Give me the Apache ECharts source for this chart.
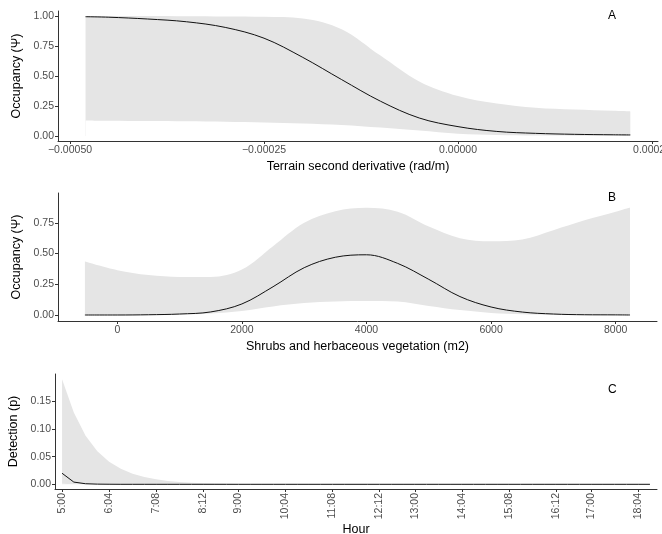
<!DOCTYPE html>
<html><head><meta charset="utf-8">
<script src="https://cdn.jsdelivr.net/npm/echarts@6/dist/echarts.min.js"></script>
<style>html,body{margin:0;padding:0;background:#fff}#c{width:662px;height:534px}</style>
</head><body><div id="c"></div>
<script>
// Panel A: terrain second derivative
const terrainX     = [-0.00048, -0.00045, -0.0004, -0.00035, -0.0003, -0.00025, -0.0002, -0.00015, -0.0001, -0.00005, 0, 0.00005, 0.0001, 0.00015, 0.0002, 0.000222];
const terrainMean  = [0.994, 0.99, 0.975, 0.952, 0.905, 0.815, 0.655, 0.47, 0.29, 0.15, 0.078, 0.038, 0.022, 0.014, 0.010, 0.009];
const terrainUpper = [1.0, 1.0, 1.0, 0.998, 0.996, 0.993, 0.98, 0.89, 0.67, 0.455, 0.333, 0.27, 0.235, 0.22, 0.21, 0.205];
const terrainLower = [0.13, 0.127, 0.124, 0.122, 0.119, 0.113, 0.105, 0.092, 0.07, 0.045, 0.018, 0.008, 0.004, 0.003, 0.002, 0.002];
const terrainTicks = [-0.0005, -0.00025, 0, 0.00025];

// Panel B: shrubs and herbaceous vegetation
const shrubX     = [-520, 0, 500, 1000, 1500, 2000, 2500, 3000, 3500, 4000, 4500, 5000, 5500, 6000, 6500, 7000, 7500, 8000, 8230];
const shrubMean  = [0.0, 0.0, 0.002, 0.008, 0.025, 0.09, 0.23, 0.385, 0.47, 0.49, 0.42, 0.29, 0.15, 0.065, 0.024, 0.008, 0.002, 0.001, 0.0];
const shrubUpper = [0.435, 0.365, 0.325, 0.31, 0.31, 0.37, 0.56, 0.75, 0.845, 0.873, 0.84, 0.72, 0.625, 0.60, 0.615, 0.69, 0.77, 0.84, 0.875];
const shrubLower = [0.0, 0.0, 0.001, 0.004, 0.012, 0.033, 0.07, 0.097, 0.11, 0.114, 0.11, 0.073, 0.04, 0.017, 0.006, 0.002, 0.0, 0.0, 0.0];
const shrubTicks = [0, 2000, 4000, 6000, 8000];

// Panel C: detection by hour
const hourTimes = ['5:00','5:16','5:32','5:48','6:04','6:20','6:36','6:52','7:08','7:24','7:40','7:56','8:12','8:28','8:44','9:00','9:16','9:32','9:48','10:04','10:20','10:36','10:52','11:08','11:24','11:40','11:56','12:12','12:28','12:44','13:00','13:16','13:32','13:48','14:04','14:20','14:36','14:52','15:08','15:24','15:40','15:56','16:12','16:28','16:44','17:00','17:16','17:32','17:48','18:04','18:20'];
const detMean  = [0.020, 0.004, 0.001, 0.0003, 0.0001, 0, 0, 0, 0, 0, 0, 0, 0, 0, 0, 0, 0, 0, 0, 0, 0, 0, 0, 0, 0, 0, 0, 0, 0, 0, 0, 0, 0, 0, 0, 0, 0, 0, 0, 0, 0, 0, 0, 0, 0, 0, 0, 0, 0, 0, 0];
const detUpper = [0.19, 0.13, 0.088, 0.060, 0.041, 0.028, 0.019, 0.013, 0.009, 0.006, 0.004, 0.003, 0.002, 0.0013, 0.0008, 0.0005, 0.0003, 0.0002, 0.0001, 0, 0, 0, 0, 0, 0, 0, 0, 0, 0, 0, 0, 0, 0, 0, 0, 0, 0, 0, 0, 0, 0, 0, 0, 0, 0, 0, 0, 0, 0, 0, 0];
const detLower = [0.001, 0.0002, 0, 0, 0, 0, 0, 0, 0, 0, 0, 0, 0, 0, 0, 0, 0, 0, 0, 0, 0, 0, 0, 0, 0, 0, 0, 0, 0, 0, 0, 0, 0, 0, 0, 0, 0, 0, 0, 0, 0, 0, 0, 0, 0, 0, 0, 0, 0, 0, 0];
const hourTickLabels = ['5:00','6:04','7:08','8:12','9:00','10:04','11:08','12:12','13:00','14:04','15:08','16:12','17:00','18:04'];

const occTicks = [0, 0.25, 0.5, 0.75, 1.0];
const occTicksB = [0, 0.25, 0.5, 0.75];
const detTicks = [0, 0.05, 0.10, 0.15];

const toMin = s => { const p = s.split(':'); return +p[0] * 60 + +p[1]; };
const fmtTime = v => { const h = Math.floor(v / 60), m = Math.round(v - h * 60); return h + ':' + (m < 10 ? '0' : '') + m; };
const hourX = hourTimes.map(toMin);

const FONT = 'Liberation Sans, Arial, sans-serif';
const axisCommon = {
  z: 10,
  axisLine: { show: true, onZero: false, lineStyle: { color: '#333', width: 1 } },
  axisTick: { show: true, length: 3, lineStyle: { color: '#333', width: 1 } },
  splitLine: { show: false },
  nameTextStyle: { color: '#000', fontSize: 12.5, fontFamily: FONT },
};
function xAx(gi, min, max, ticks, fmt, name, gap, extraLabel) {
  return Object.assign({}, axisCommon, {
    type: 'value', gridIndex: gi, min, max, name, nameLocation: 'middle', nameGap: gap,
    axisTick: Object.assign({}, axisCommon.axisTick, { customValues: ticks }),
    axisLabel: Object.assign({ customValues: ticks, formatter: fmt, color: '#4d4d4d', fontSize: 10.5, fontFamily: FONT, margin: 4, hideOverlap: false, showMinLabel: true, showMaxLabel: true }, extraLabel || {})
  });
}
function yAx(gi, min, max, ticks, fmt, name, gap) {
  return Object.assign({}, axisCommon, {
    type: 'value', gridIndex: gi, min, max, name, nameLocation: 'middle', nameGap: gap, nameRotate: 90,
    axisTick: Object.assign({}, axisCommon.axisTick, { customValues: ticks }),
    axisLabel: { customValues: ticks, formatter: fmt, color: '#4d4d4d', fontSize: 10.5, fontFamily: FONT, margin: 4, hideOverlap: false }
  });
}
// Confidence band: upper curve filled grey down to the baseline, lower curve filled white down to the baseline.
function band(gi, xs, lo, hi, smooth) {
  return [
    { type: 'line', xAxisIndex: gi, yAxisIndex: gi, symbol: 'none', smooth, silent: true,
      lineStyle: { width: 0, opacity: 0 }, areaStyle: { color: '#e5e5e5', opacity: 1, origin: 'auto' },
      data: xs.map((x, i) => [x, hi[i]]), z: 1 },
    { type: 'line', xAxisIndex: gi, yAxisIndex: gi, symbol: 'none', smooth, silent: true,
      lineStyle: { width: 0, opacity: 0 }, areaStyle: { color: '#ffffff', opacity: 1, origin: 'auto' },
      data: xs.map((x, i) => [x, lo[i]]), z: 2 }
  ];
}
function meanLine(gi, xs, ys, smooth) {
  return { type: 'line', xAxisIndex: gi, yAxisIndex: gi, symbol: 'none', smooth, silent: true,
    lineStyle: { color: '#111', width: 1 }, data: xs.map((x, i) => [x, ys[i]]), z: 3 };
}

const fmt2 = v => v.toFixed(2);
const fmtTerr = v => (v < 0 ? '\u2212' : '') + Math.abs(v).toFixed(5);

const option = {
  animation: false,
  backgroundColor: '#fff',
  textStyle: { fontFamily: FONT },
  grid: [
    { left: 58, top: 11, width: 600, height: 130, outerBoundsMode: 'none' },
    { left: 58, top: 193, width: 599, height: 128, outerBoundsMode: 'none' },
    { left: 55, top: 374, width: 602, height: 115, outerBoundsMode: 'none' }
  ],
  xAxis: [
    xAx(0, -0.0005155, 0.0002577, terrainTicks, fmtTerr, 'Terrain second derivative (rad/m)', 19),
    xAx(1, -952, 8663, shrubTicks, v => String(v), 'Shrubs and herbaceous vegetation (m2)', 19),
    xAx(2, 300 - 9.6, 300 + 809.6, hourTickLabels.map(toMin), fmtTime, 'Hour', 33, { rotate: 90 })
  ],
  yAxis: [
    yAx(0, -0.0417, 1.0417, occTicks, fmt2, 'Occupancy (\u03A8)', 29),
    yAx(1, -0.0488, 0.9927, occTicksB, fmt2, 'Occupancy (\u03A8)', 29),
    yAx(2, -0.0085, 0.1995, detTicks, fmt2, 'Detection (p)', 25)
  ],
  series: [
    ...band(0, terrainX, terrainLower, terrainUpper, 0.35),
    meanLine(0, terrainX, terrainMean, 0.35),
    ...band(1, shrubX, shrubLower, shrubUpper, 0.35),
    meanLine(1, shrubX, shrubMean, 0.35),
    ...band(2, hourX, detLower, detUpper, false),
    meanLine(2, hourX, detMean, false)
  ],
  graphic: [
    { type: 'text', z: 100, left: 608, top: 10, style: { text: 'A', fontSize: 12, fontFamily: FONT, fill: '#000' } },
    { type: 'text', z: 100, left: 608, top: 192, style: { text: 'B', fontSize: 12, fontFamily: FONT, fill: '#000' } },
    { type: 'text', z: 100, left: 608, top: 384, style: { text: 'C', fontSize: 12, fontFamily: FONT, fill: '#000' } }
  ]
};
const chart = echarts.init(document.getElementById('c'), null, { renderer: 'canvas' });
chart.setOption(option);
</script>
</body></html>
